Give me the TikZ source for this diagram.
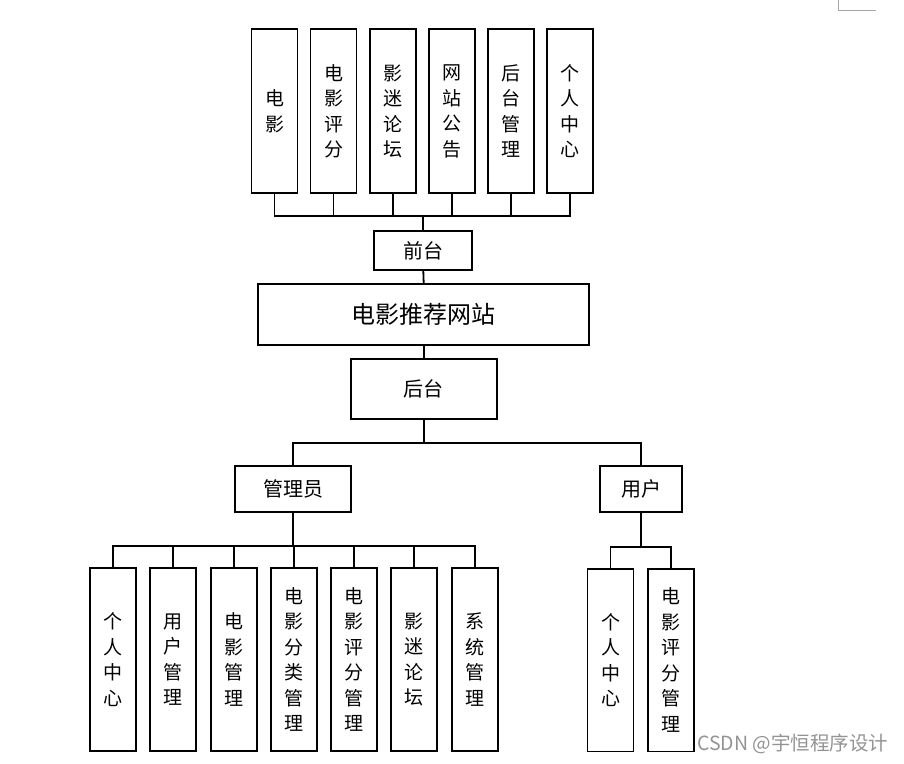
\documentclass[tikz,border=0pt]{standalone}
\usepackage{fontspec}
\newfontfamily\cjk{Noto Sans CJK SC}
\begin{document}
\begin{tikzpicture}[x=1pt,y=-1pt,
  box/.style={draw=black, line width=1.8pt, fill=white, inner sep=0pt, align=center},
  vbox/.style={box, minimum width=46pt, font=\cjk\fontsize{19}{25.5}\selectfont},
  hbox/.style={box, font=\cjk\fontsize{20}{24}\selectfont},
  link/.style={line width=1.8pt}]
\path[use as bounding box] (0,0) rectangle (904,763);
\draw[gray!70, line width=1pt] (838.3,0) -- (838.3,10.3) -- (876,10.3);
% top row
\foreach \n/\x/\t in {t1/274.5/{电\\影}, t2/333.5/{电\\影\\评\\分}, t3/392.8/{影\\迷\\论\\坛}, t4/452/{网\\站\\公\\告}, t5/511.2/{后\\台\\管\\理}, t6/570.2/{个\\人\\中\\心}}
  \node[vbox, minimum height=164.3pt] (\n) at (\x,111.2) {\t};
\node[hbox, minimum width=98pt, minimum height=39.3pt] (qt) at (423.3,250.5) {前台};
\node[hbox, minimum width=330.7pt, minimum height=61pt, font=\cjk\fontsize{24}{28}\selectfont] (main) at (423.7,314.5) {电影推荐网站};
\node[hbox, minimum width=146pt, minimum height=60.3pt] (ht) at (423.7,389.2) {后台};
\node[hbox, minimum width=116pt, minimum height=46.3pt] (adm) at (293,489.2) {管理员};
\node[hbox, minimum width=82.3pt, minimum height=46.3pt] (usr) at (641.2,489.2) {用户};
% bottom admin row
\foreach \n/\x/\t in {a1/113.2/{个\\人\\中\\心}, a2/173.3/{用\\户\\管\\理}, a3/233.7/{电\\影\\管\\理}, a4/294.1/{电\\影\\分\\类\\管\\理}, a5/354/{电\\影\\评\\分\\管\\理}, a6/414.3/{影\\迷\\论\\坛}, a7/474.7/{系\\统\\管\\理}}
  \node[vbox, minimum height=182.4pt] (\n) at (\x,659.5) {\t};
\foreach \n/\x/\t in {u1/610.5/{个\\人\\中\\心}, u2/670.7/{电\\影\\评\\分\\管\\理}}
  \node[vbox, minimum height=182.4pt] (\n) at (\x,660.2) {\t};
% connectors
\coordinate (busA) at (423.3,215.7);
\foreach \n in {t1,t2,t3,t4,t5,t6} \draw[link] (\n.south) |- (busA);
\draw[link] (busA) -- (qt.north);
\draw[link] (qt.south) -- (main.north);
\draw[link] (main.south) -- (ht.north);
\coordinate (busB) at (423.7,442.7);
\draw[link] (ht.south) -- (busB);
\draw[link] (adm.north) |- (busB) -| (usr.north);
\coordinate (busC) at (293,546);
\foreach \n in {a1,a2,a3,a4,a5,a6,a7} \draw[link] (\n.north) |- (busC);
\draw[link] (busC) -- (adm.south);
\coordinate (busD) at (641.2,546.7);
\foreach \n in {u1,u2} \draw[link] (\n.north) |- (busD);
\draw[link] (busD) -- (usr.south);
% watermark
\node[anchor=west, inner sep=0pt, text=gray!85, font=\cjk\fontsize{19.5}{21}\selectfont] (wm) at (697,744) {CSDN @宇恒程序设计};
\end{tikzpicture}
\end{document}
